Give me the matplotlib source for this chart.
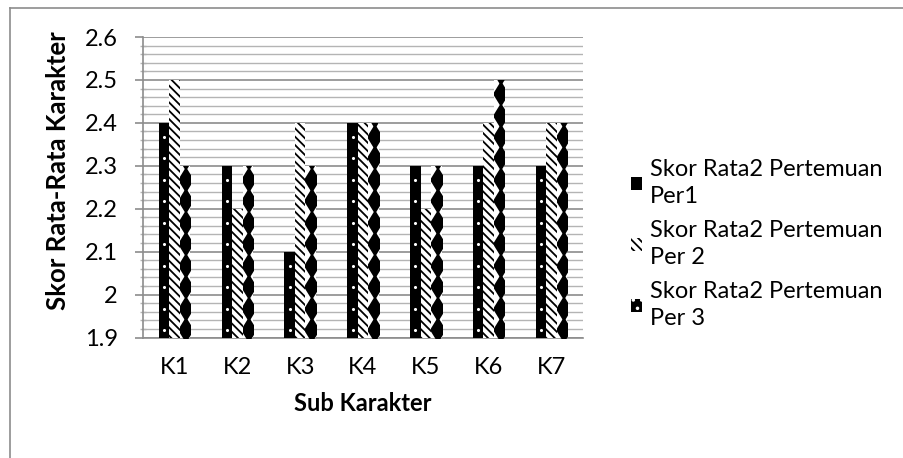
import numpy as np
import matplotlib
matplotlib.use("Agg")
import matplotlib.pyplot as plt
from matplotlib.patches import Patch
from matplotlib.lines import Line2D
from matplotlib.ticker import MultipleLocator

plt.rcParams['font.family'] = ['Lato', 'DejaVu Sans']
plt.rcParams['hatch.linewidth'] = 1.3

categories = ['K1', 'K2', 'K3', 'K4', 'K5', 'K6', 'K7']
series_names = ['Skor Rata2 Pertemuan\nPer1',
                'Skor Rata2 Pertemuan\nPer 2',
                'Skor Rata2 Pertemuan\nPer 3']
per1 = [2.4, 2.3, 2.1, 2.4, 2.3, 2.3, 2.3]
per2 = [2.5, 2.2, 2.4, 2.4, 2.2, 2.4, 2.4]
per3 = [2.3, 2.3, 2.3, 2.4, 2.3, 2.5, 2.4]
y_ticks = [1.9, 2.0, 2.1, 2.2, 2.3, 2.4, 2.5, 2.6]
y_tick_labels = ['1.9', '2', '2.1', '2.2', '2.3', '2.4', '2.5', '2.6']

FS = 17
fig = plt.figure(figsize=(9.04, 4.58), dpi=100)
ax = fig.add_axes([143/904, 1-337.5/458, 440/904, 300.5/458])

x = np.arange(len(categories))
w = 1/6
ymin = 1.9
HATCH = '\\\\\\\\'

b1 = ax.bar(x - w, np.array(per1) - ymin, width=w, bottom=ymin,
            color='black', linewidth=0, zorder=3)
b2 = ax.bar(x, np.array(per2) - ymin, width=w, bottom=ymin,
            facecolor='white', edgecolor='black', hatch=HATCH, linewidth=0, zorder=3)
b3 = ax.bar(x + w, np.array(per3) - ymin, width=w, bottom=ymin,
            facecolor='white', linewidth=0, zorder=3)

step = 0.05
for rect, v in zip(b1.patches, per1):
    ys = np.arange(ymin + 0.017, v + step, step)
    xc = rect.get_x() + rect.get_width()/2
    sc = ax.scatter(np.full_like(ys, xc), ys, s=5, color='white', zorder=4, linewidths=0)
    sc.set_clip_path(rect)
for rect, v in zip(b3.patches, per3):
    ys = np.arange(ymin + 0.017, v + step, step)
    xc = rect.get_x() + rect.get_width()*0.65
    ln, = ax.plot(np.full_like(ys, xc), ys, linestyle='none', marker='d',
                  markersize=13, color='black', markeredgewidth=0, zorder=4)
    ln.set_clip_path(rect)

ax.set_xlim(-0.5, len(categories) - 0.5)
ax.set_ylim(1.9, 2.6)
ax.set_yticks(y_ticks)
ax.set_yticklabels(y_tick_labels)
ax.yaxis.set_minor_locator(MultipleLocator(0.02))
ax.set_xticks(x)
ax.set_xticklabels(categories)

ax.grid(axis='y', which='major', color='#8c8c8c', linewidth=1.2, zorder=0)
ax.grid(axis='y', which='minor', color='#b4b4b4', linewidth=1.0, zorder=0)
ax.set_axisbelow(True)

for s in ['top', 'right']:
    ax.spines[s].set_visible(False)
for s in ['left', 'bottom']:
    ax.spines[s].set_color('#8c8c8c')
    ax.spines[s].set_linewidth(1.2)

ax.tick_params(axis='y', which='major', length=6, color='#8c8c8c', width=1.2,
               labelsize=FS, pad=12, labelcolor='black')
ax.tick_params(axis='y', which='minor', length=4, direction='inout', color='#b4b4b4', width=1.0)
ax.tick_params(axis='x', length=0, labelsize=FS, pad=14)

ax.set_xlabel('Sub Karakter', fontsize=FS, fontweight='bold', labelpad=10)
fig.text(58/904, 1-171/458, 'Skor Rata-Rata Karakter', rotation=90, fontsize=18.5,
         fontweight='bold', ha='center', va='center')

handles = [Patch(facecolor='black', edgecolor='black', linewidth=0),
           Patch(facecolor='white', edgecolor='black', hatch=HATCH, linewidth=0),
           Patch(facecolor='black', edgecolor='white', hatch='..', linewidth=0)]
leg = fig.legend(handles, series_names, loc='upper left',
                 bbox_to_anchor=(622/904, 1-150/458), frameon=False, fontsize=FS,
                 handlelength=0.45, handleheight=0.45, handletextpad=0.35,
                 labelspacing=0.55, borderaxespad=0)
for t in leg.get_texts():
    t.set_linespacing(1.35)

fig.add_artist(Line2D([10/904, 10/904], [0, 1-8/458], transform=fig.transFigure,
                      color='#8c8c8c', linewidth=1.2))
fig.add_artist(Line2D([10/904, 1], [1-8/458, 1-8/458], transform=fig.transFigure,
                      color='#8c8c8c', linewidth=1.2))

fig.savefig('out.png', dpi=100)
